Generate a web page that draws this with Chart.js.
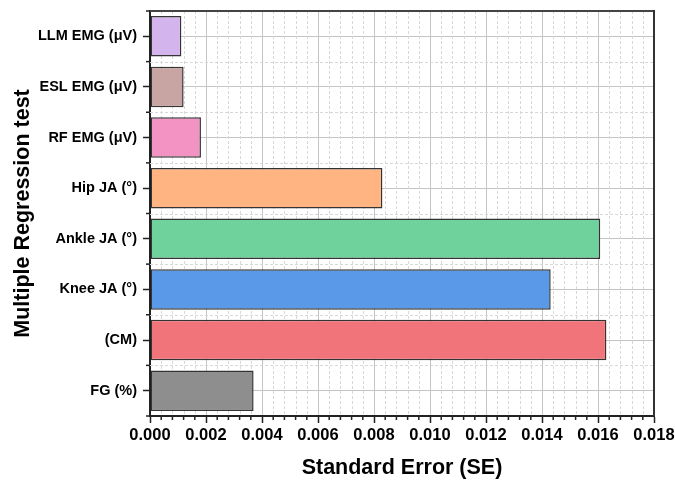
<!DOCTYPE html>
<html>
<head>
<meta charset="utf-8">
<script src="https://cdn.jsdelivr.net/npm/chart.js@4/dist/chart.umd.min.js"></script>
<style>
  html, body { margin: 0; padding: 0; background: #fff; }
  #wrap { width: 675px; height: 481px; }
</style>
</head>
<body>
<div id="wrap"><canvas id="c" width="675" height="481"></canvas></div>
<script>
// Predictors, listed top to bottom
const categories = ['LLM EMG (\u03bcV)', 'ESL EMG (\u03bcV)', 'RF EMG (\u03bcV)', 'Hip JA (\u00b0)',
                    'Ankle JA (\u00b0)', 'Knee JA (\u00b0)', '(CM)', 'FG (%)'];
// Standard error of each predictor
const seValues = [0.00112, 0.0012, 0.00182, 0.0083, 0.01608, 0.01431, 0.0163, 0.0037];
const barColors = ['#D4B4EC', '#C8A4A2', '#F293C4', '#FFB482', '#6FD19B', '#5A99E8', '#F07479', '#8E8E8E'];
// Axis range and steps
const xMin = 0, xMax = 0.018, xMajorStep = 0.002, xMinorStep = 0.0004;

const FONT = "'Liberation Sans', Arial, sans-serif";

// Dashed minor grid, minor tick marks and the top/right frame
const frameAndMinor = {
  id: 'frameAndMinor',
  beforeDatasetsDraw(chart) {
    const {ctx, chartArea: a, scales: {x, y}} = chart;
    ctx.save();
    ctx.strokeStyle = '#d8d8d8';
    ctx.lineWidth = 1;
    ctx.setLineDash([3, 2]);
    const nMinor = Math.round((xMax - xMin) / xMinorStep);
    for (let k = 1; k < nMinor; k++) {
      if (k % 5 === 0) continue;
      const px = Math.round(x.getPixelForValue(xMin + k * xMinorStep)) + 0.5;
      ctx.beginPath(); ctx.moveTo(px, a.top); ctx.lineTo(px, a.bottom); ctx.stroke();
    }
    for (let i = 0; i < categories.length - 1; i++) {
      const py = Math.round(y.getPixelForValue(i + 0.5)) + 0.5;
      ctx.beginPath(); ctx.moveTo(a.left, py); ctx.lineTo(a.right, py); ctx.stroke();
    }
    ctx.restore();
  },
  afterDatasetsDraw(chart) {
    const {ctx, chartArea: a, scales: {x, y}} = chart;
    ctx.save();
    ctx.setLineDash([]);
    // minor ticks
    ctx.strokeStyle = '#222';
    ctx.lineWidth = 1.5;
    const nMinor = Math.round((xMax - xMin) / xMinorStep);
    for (let k = 1; k < nMinor; k++) {
      if (k % 5 === 0) continue;
      const px = x.getPixelForValue(xMin + k * xMinorStep);
      ctx.beginPath(); ctx.moveTo(px, a.bottom); ctx.lineTo(px, a.bottom + 4); ctx.stroke();
    }
    for (let i = -1; i < categories.length; i++) {
      const py = y.getPixelForValue(i + 0.5);
      ctx.beginPath(); ctx.moveTo(a.left - 4, py); ctx.lineTo(a.left, py); ctx.stroke();
    }
    // frame
    ctx.lineWidth = 2;
    ctx.strokeStyle = '#444';
    ctx.beginPath(); ctx.moveTo(a.left, a.top); ctx.lineTo(a.right, a.top); ctx.stroke();
    ctx.strokeStyle = '#333';
    ctx.beginPath(); ctx.moveTo(a.right, a.top - 1); ctx.lineTo(a.right, a.bottom); ctx.stroke();
    ctx.restore();
  }
};

new Chart(document.getElementById('c'), {
  type: 'bar',
  data: {
    labels: categories,
    datasets: [{
      data: seValues,
      backgroundColor: barColors,
      borderColor: 'rgba(30,30,30,0.9)',
      borderWidth: 1.5,
      borderSkipped: false,
      categoryPercentage: 1,
      barPercentage: 0.8
    }]
  },
  options: {
    indexAxis: 'y',
    responsive: false,
    animation: false,
    events: [],
    layout: { padding: { top: 11, right: 21, bottom: 0, left: 0 } },
    plugins: { legend: { display: false }, tooltip: { enabled: false } },
    scales: {
      x: {
        type: 'linear',
        min: xMin,
        max: xMax,
        afterFit(s) { s.height = 65; s.paddingLeft = 0; s.paddingRight = 0; },
        ticks: {
          stepSize: xMajorStep,
          color: '#000',
          padding: 3,
          font: { family: FONT, size: 16.5, weight: 'bold' },
          callback: (v) => Number(v).toFixed(3)
        },
        grid: { color: '#c4c4c4', lineWidth: 1, tickColor: '#222', tickLength: 7, tickWidth: 1.5 },
        border: { color: '#222', width: 2 },
        title: {
          display: true,
          text: 'Standard Error (SE)',
          color: '#000',
          font: { family: FONT, size: 21.5, weight: 'bold' },
          padding: { top: 0, bottom: 0 }
        }
      },
      y: {
        afterFit(s) { s.width = 150; s.paddingTop = 0; s.paddingBottom = 0; },
        ticks: {
          color: '#000',
          padding: 6,
          font: { family: FONT, size: 14.5, weight: 'bold' }
        },
        grid: { offset: false, color: '#c4c4c4', lineWidth: 1, tickColor: '#222', tickLength: 7, tickWidth: 1.5 },
        border: { color: '#222', width: 2 },
        title: {
          display: true,
          text: 'Multiple Regression test',
          color: '#000',
          font: { family: FONT, size: 21.5, weight: 'bold' },
          padding: { top: 10, bottom: 0 }
        }
      }
    }
  },
  plugins: [frameAndMinor]
});
</script>
</body>
</html>
